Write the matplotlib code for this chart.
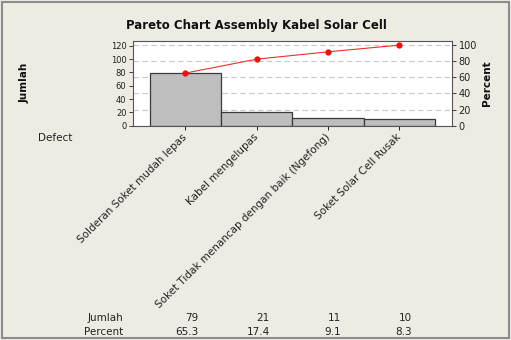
import matplotlib
matplotlib.use('Agg')
import matplotlib.pyplot as plt
import matplotlib.transforms as mtransforms
from matplotlib.patches import Rectangle

# Data
defects = ['Solderan Soket mudah lepas', 'Kabel mengelupas',
           'Soket Tidak menancap dengan baik (Ngefong)', 'Soket Solar Cell Rusak']
jumlah = [79, 21, 11, 10]
percent = [65.3, 17.4, 9.1, 8.3]
cum_percent = [65.3, 82.6, 91.7, 100.0]

BG = '#eeebe3'
total = sum(jumlah)

fig = plt.figure(figsize=(5.11, 3.40), dpi=100, facecolor=BG)
fig.patches.append(Rectangle((0.004, 0.006), 0.992, 0.988, transform=fig.transFigure,
                             fill=False, edgecolor='#8c8c8c', linewidth=1.5))

ax = fig.add_axes([0.2597, 0.6303, 0.6253, 0.2497])
ax.set_facecolor('white')
x = list(range(len(defects)))
ax.bar(x, jumlah, width=1.0, color='#bebebe', edgecolor='#3a3a3a', linewidth=0.9, zorder=2)
ax.set_xlim(-0.74, 3.74)
ymax = 127.5
ax.set_ylim(0, ymax)
ax.set_yticks([0, 20, 40, 60, 80, 100, 120])
ax.tick_params(axis='y', labelsize=6, length=3, width=0.6, pad=1.5, colors='#222222')
ax.set_xticks(x)
ax.set_xticklabels(defects, rotation=45, ha='right', va='center', rotation_mode='anchor',
                   fontsize=7.5, color='#222222')
ax.tick_params(axis='x', length=3, width=0.6, pad=4)
for s in ax.spines.values():
    s.set_color('#555555')
    s.set_linewidth(0.8)

ax2 = ax.twinx()
ax2.set_ylim(0, ymax / total * 100)
ax2.set_yticks([0, 20, 40, 60, 80, 100])
ax2.tick_params(axis='y', labelsize=7, length=3, width=0.6, pad=1.5, colors='#222222')
ax2.yaxis.grid(True, linestyle=(0, (5, 3)), color='#c8c8c8', linewidth=0.8)
ax2.set_axisbelow(True)
ax2.plot(x, cum_percent, color='#e8302a', linewidth=0.8, marker='o', markersize=3.5,
         markerfacecolor='#ee1111', markeredgecolor='#ee1111', zorder=5)
for s in ax2.spines.values():
    s.set_visible(False)
ax.set_zorder(ax2.get_zorder() - 1)
ax2.patch.set_visible(False)
# draw grid behind bars: put grid on ax at percent positions
ax2.yaxis.grid(False)
for p in [20, 40, 60, 80, 100]:
    ax.axhline(p * total / 100, linestyle=(0, (5, 3)), color='#c8c8c8', linewidth=0.8, zorder=1)

fig.text(0.501, 0.926, 'Pareto Chart Assembly Kabel Solar Cell', ha='center', va='center',
         fontsize=8.5, fontweight='bold', color='#111111')
fig.text(0.049, 0.755, 'Jumlah', rotation=90, ha='center', va='center',
         fontsize=7.5, fontweight='bold', color='#111111')
fig.text(0.953, 0.755, 'Percent', rotation=90, ha='center', va='center',
         fontsize=7.5, fontweight='bold', color='#111111')
fig.text(0.0744, 0.594, 'Defect', ha='left', va='center', fontsize=7.5, color='#222222')

# table below chart
trans = mtransforms.blended_transform_factory(ax.transData, fig.transFigure)
fig.text(0.241, 0.066, 'Jumlah', ha='right', va='center', fontsize=7.5, color='#222222')
fig.text(0.241, 0.024, 'Percent', ha='right', va='center', fontsize=7.5, color='#222222')
for i in x:
    ax.text(i + 0.18, 0.066, str(jumlah[i]), transform=trans, ha='right', va='center',
            fontsize=7.5, color='#222222', clip_on=False)
    ax.text(i + 0.18, 0.024, f'{percent[i]:.1f}', transform=trans, ha='right', va='center',
            fontsize=7.5, color='#222222', clip_on=False)

fig.savefig('out.png', dpi=100, facecolor=BG)
